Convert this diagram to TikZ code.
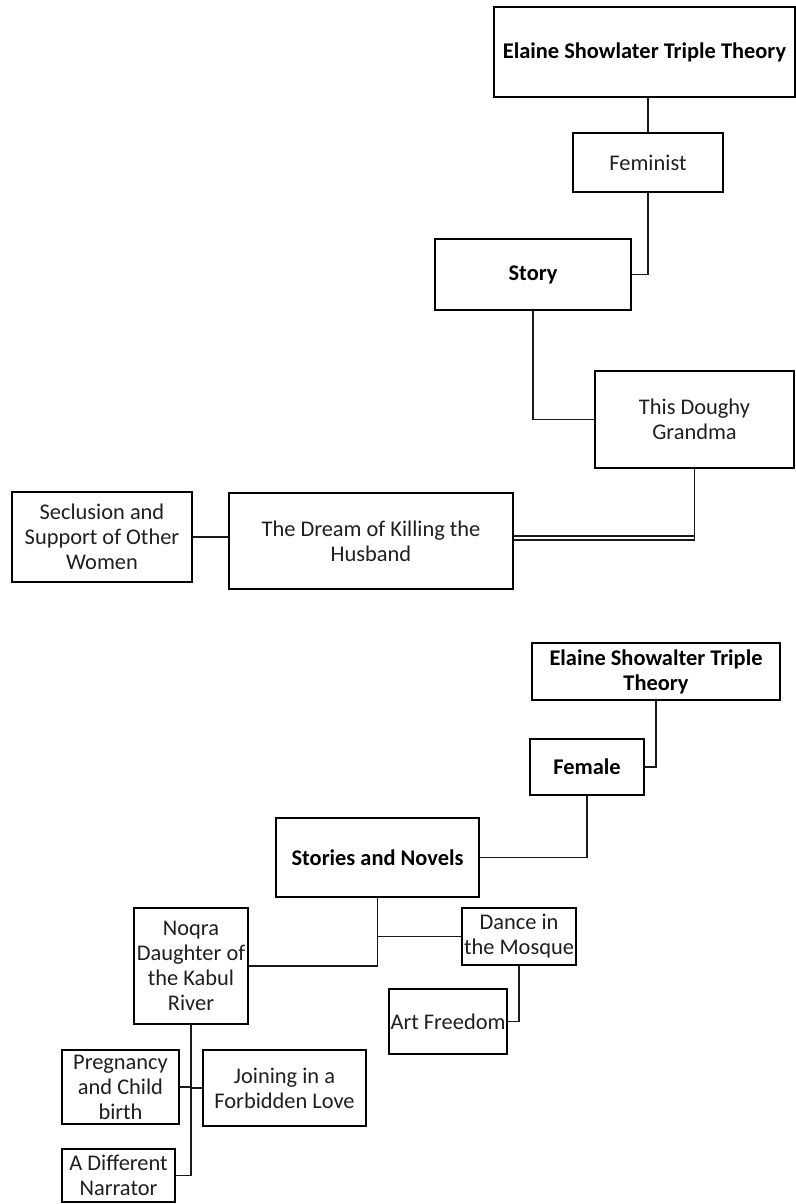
\documentclass[tikz,border=0pt]{standalone}
\usepackage{fontspec}
\setmainfont{Carlito}
\usetikzlibrary{calc}
\tikzset{
  box/.style={draw=black, line width=2pt, fill=white, inner sep=0pt, align=center,
    font=\fontsize{22.4pt}{25pt}\selectfont, text=black!88},
  boldbox/.style={box, font=\fontsize{22.4pt}{25pt}\selectfont\bfseries, text=black},
  link/.style={draw=black!90, line width=1.9pt},
  thinlink/.style={draw=black!90, line width=1.2pt}
}
\begin{document}
\begin{tikzpicture}[x=1pt,y=-1pt]
\useasboundingbox (0,0) rectangle (795,1204);
\fill[white] (0,0) rectangle (795,1204);

% ---------- upper diagram ----------
\node[boldbox, minimum width=301pt, minimum height=90pt] (es1) at (644.5,52) {Elaine Showlater Triple Theory};
\node[box, minimum width=150pt, minimum height=59pt] (fem1) at (648,162.5) {Feminist};
\node[boldbox, minimum width=196pt, minimum height=71pt] (story) at (533,274.5) {Story};
\node[box, minimum width=199pt, minimum height=97pt] (doughy) at (694.5,419.5) {This Doughy\\Grandma};
\node[box, minimum width=284pt, minimum height=96pt] (dream) at (371,541) {The Dream of Killing the\\Husband};
\node[box, minimum width=180pt, minimum height=90pt] (secl) at (102,537) {Seclusion and\\Support of Other\\Women};

\draw[link] (fem1.north) -- (fem1.north |- es1.south);
\draw[link] (fem1.south) |- (story.east);
\draw[link] (story.south) |- (doughy.west);
\draw[thinlink] (doughy.south) |- ($(dream.east)+(0,-1)$);
\draw[thinlink] ($(dream.east)+(0,-5)$) -- ($(dream.east)+(181,-5)$);
\draw[link] (secl.east) -- (dream.west |- secl.east);

% ---------- lower diagram ----------
\node[boldbox, minimum width=248pt, minimum height=57pt] (es2) at (656,671.5) {Elaine Showalter Triple\\Theory};
\node[boldbox, minimum width=114pt, minimum height=56pt] (female) at (587,767) {Female};
\node[boldbox, minimum width=203pt, minimum height=79pt] (stories) at (377.5,857.5) {Stories and Novels};
\node[box, minimum width=114pt, minimum height=116pt] (noqra) at (191,966) {Noqra\\Daughter of\\the Kabul\\River};
\node[box, minimum width=114pt, minimum height=57pt] (dance) at (519,936.5) {Dance in\\the Mosque};
\node[box, minimum width=118pt, minimum height=65pt] (art) at (448,1021.5) {Art Freedom};
\node[box, minimum width=117pt, minimum height=74pt] (preg) at (120.5,1087) {Pregnancy\\and Child\\birth};
\node[box, minimum width=163pt, minimum height=76pt] (join) at (284.5,1088) {Joining in a\\Forbidden Love};
\node[box, minimum width=113pt, minimum height=53pt] (diff) at (118.5,1175.5) {A Different\\Narrator};

\draw[link] (es2.south) |- (female.east);
\draw[link] (female.south) |- (stories.east);
\draw[link] (stories.south) |- (noqra.east);
\draw[link] (stories.south) |- (dance.west);
\draw[link] (dance.south) |- (art.east);
\draw[link] (noqra.south) |- (preg.east);
\draw[link] (noqra.south) |- (join.west);
\draw[link] (noqra.south) |- (diff.east);
\end{tikzpicture}
\end{document}
